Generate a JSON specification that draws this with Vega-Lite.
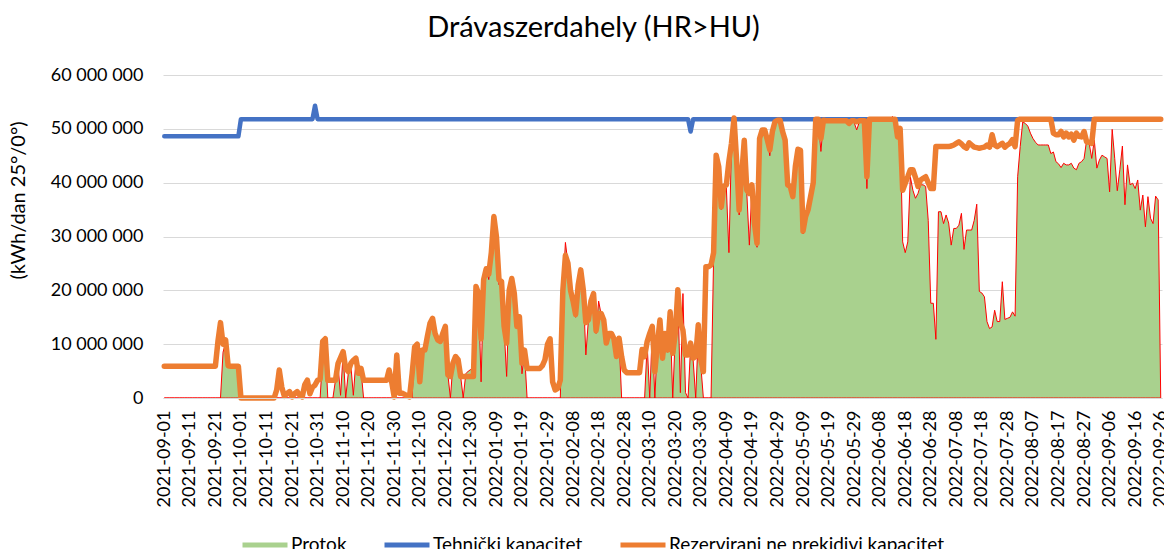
{
"$schema": "https://vega.github.io/schema/vega-lite/v6.json",
"width": 999, "height": 323,
"autosize": {"type": "none"},
"padding": {"left": 163, "top": 75, "right": 2, "bottom": 151},
"background": "white",
"config": {
  "locale": {"number": {"decimal": ",", "thousands": " ", "grouping": [3], "currency": ["", ""]}},
  "view": {"stroke": null},
  "font": "Lato",
  "axis": {"labelFont": "Lato", "titleFont": "Lato"},
  "legend": {"labelFont": "Lato"}
},
"title": {"text": "Drávaszerdahely (HR>HU)", "font": "Lato", "fontSize": 29, "fontWeight": "normal", "color": "black", "anchor": "middle", "frame": "group", "dx": -69, "offset": 23},
"data": {"values": [
{"d":"2021-09-01","p":0,"t":48600000,"r":5900000},
{"d":"2021-09-02","p":0,"t":48600000,"r":5900000},
{"d":"2021-09-03","p":0,"t":48600000,"r":5900000},
{"d":"2021-09-04","p":0,"t":48600000,"r":5900000},
{"d":"2021-09-05","p":0,"t":48600000,"r":5900000},
{"d":"2021-09-06","p":0,"t":48600000,"r":5900000},
{"d":"2021-09-07","p":0,"t":48600000,"r":5900000},
{"d":"2021-09-08","p":0,"t":48600000,"r":5900000},
{"d":"2021-09-09","p":0,"t":48600000,"r":5900000},
{"d":"2021-09-10","p":0,"t":48600000,"r":5900000},
{"d":"2021-09-11","p":0,"t":48600000,"r":5900000},
{"d":"2021-09-12","p":0,"t":48600000,"r":5900000},
{"d":"2021-09-13","p":0,"t":48600000,"r":5900000},
{"d":"2021-09-14","p":0,"t":48600000,"r":5900000},
{"d":"2021-09-15","p":0,"t":48600000,"r":5900000},
{"d":"2021-09-16","p":0,"t":48600000,"r":5900000},
{"d":"2021-09-17","p":0,"t":48600000,"r":5900000},
{"d":"2021-09-18","p":0,"t":48600000,"r":5900000},
{"d":"2021-09-19","p":0,"t":48600000,"r":5900000},
{"d":"2021-09-20","p":0,"t":48600000,"r":5900000},
{"d":"2021-09-21","p":0,"t":48600000,"r":5900000},
{"d":"2021-09-22","p":0,"t":48600000,"r":10500000},
{"d":"2021-09-23","p":0,"t":48600000,"r":14000000},
{"d":"2021-09-24","p":8500000,"t":48600000,"r":10000000},
{"d":"2021-09-25","p":10300000,"t":48600000,"r":10800000},
{"d":"2021-09-26","p":6000000,"t":48600000,"r":6000000},
{"d":"2021-09-27","p":5900000,"t":48600000,"r":5900000},
{"d":"2021-09-28","p":5900000,"t":48600000,"r":5900000},
{"d":"2021-09-29","p":5900000,"t":48600000,"r":5900000},
{"d":"2021-09-30","p":5900000,"t":48600000,"r":5900000},
{"d":"2021-10-01","p":0,"t":51800000,"r":0},
{"d":"2021-10-02","p":0,"t":51800000,"r":0},
{"d":"2021-10-03","p":0,"t":51800000,"r":0},
{"d":"2021-10-04","p":0,"t":51800000,"r":0},
{"d":"2021-10-05","p":0,"t":51800000,"r":0},
{"d":"2021-10-06","p":0,"t":51800000,"r":0},
{"d":"2021-10-07","p":0,"t":51800000,"r":0},
{"d":"2021-10-08","p":0,"t":51800000,"r":0},
{"d":"2021-10-09","p":0,"t":51800000,"r":0},
{"d":"2021-10-10","p":0,"t":51800000,"r":0},
{"d":"2021-10-11","p":0,"t":51800000,"r":0},
{"d":"2021-10-12","p":0,"t":51800000,"r":0},
{"d":"2021-10-13","p":0,"t":51800000,"r":0},
{"d":"2021-10-14","p":0,"t":51800000,"r":0},
{"d":"2021-10-15","p":0,"t":51800000,"r":1500000},
{"d":"2021-10-16","p":0,"t":51800000,"r":5200000},
{"d":"2021-10-17","p":0,"t":51800000,"r":2000000},
{"d":"2021-10-18","p":0,"t":51800000,"r":300000},
{"d":"2021-10-19","p":0,"t":51800000,"r":800000},
{"d":"2021-10-20","p":0,"t":51800000,"r":1200000},
{"d":"2021-10-21","p":0,"t":51800000,"r":200000},
{"d":"2021-10-22","p":0,"t":51800000,"r":800000},
{"d":"2021-10-23","p":0,"t":51800000,"r":1200000},
{"d":"2021-10-24","p":0,"t":51800000,"r":500000},
{"d":"2021-10-25","p":0,"t":51800000,"r":200000},
{"d":"2021-10-26","p":0,"t":51800000,"r":2500000},
{"d":"2021-10-27","p":0,"t":51800000,"r":3300000},
{"d":"2021-10-28","p":0,"t":51800000,"r":800000},
{"d":"2021-10-29","p":0,"t":51800000,"r":2000000},
{"d":"2021-10-30","p":0,"t":54300000,"r":2400000},
{"d":"2021-10-31","p":0,"t":51800000,"r":3300000},
{"d":"2021-11-01","p":0,"t":51800000,"r":3500000},
{"d":"2021-11-02","p":8000000,"t":51800000,"r":10500000},
{"d":"2021-11-03","p":10000000,"t":51800000,"r":11000000},
{"d":"2021-11-04","p":0,"t":51800000,"r":3300000},
{"d":"2021-11-05","p":0,"t":51800000,"r":3300000},
{"d":"2021-11-06","p":0,"t":51800000,"r":3300000},
{"d":"2021-11-07","p":3300000,"t":51800000,"r":3300000},
{"d":"2021-11-08","p":6000000,"t":51800000,"r":6400000},
{"d":"2021-11-09","p":500000,"t":51800000,"r":7500000},
{"d":"2021-11-10","p":8300000,"t":51800000,"r":8600000},
{"d":"2021-11-11","p":0,"t":51800000,"r":5500000},
{"d":"2021-11-12","p":4500000,"t":51800000,"r":4900000},
{"d":"2021-11-13","p":6200000,"t":51800000,"r":6400000},
{"d":"2021-11-14","p":500000,"t":51800000,"r":7000000},
{"d":"2021-11-15","p":7000000,"t":51800000,"r":7400000},
{"d":"2021-11-16","p":4500000,"t":51800000,"r":4600000},
{"d":"2021-11-17","p":5200000,"t":51800000,"r":5500000},
{"d":"2021-11-18","p":0,"t":51800000,"r":3300000},
{"d":"2021-11-19","p":0,"t":51800000,"r":3300000},
{"d":"2021-11-20","p":0,"t":51800000,"r":3300000},
{"d":"2021-11-21","p":0,"t":51800000,"r":3300000},
{"d":"2021-11-22","p":0,"t":51800000,"r":3300000},
{"d":"2021-11-23","p":0,"t":51800000,"r":3300000},
{"d":"2021-11-24","p":0,"t":51800000,"r":3300000},
{"d":"2021-11-25","p":0,"t":51800000,"r":3300000},
{"d":"2021-11-26","p":0,"t":51800000,"r":3300000},
{"d":"2021-11-27","p":0,"t":51800000,"r":3300000},
{"d":"2021-11-28","p":0,"t":51800000,"r":5200000},
{"d":"2021-11-29","p":0,"t":51800000,"r":3000000},
{"d":"2021-11-30","p":0,"t":51800000,"r":200000},
{"d":"2021-12-01","p":0,"t":51800000,"r":8000000},
{"d":"2021-12-02","p":0,"t":51800000,"r":900000},
{"d":"2021-12-03","p":0,"t":51800000,"r":900000},
{"d":"2021-12-04","p":0,"t":51800000,"r":700000},
{"d":"2021-12-05","p":0,"t":51800000,"r":400000},
{"d":"2021-12-06","p":0,"t":51800000,"r":200000},
{"d":"2021-12-07","p":0,"t":51800000,"r":4500000},
{"d":"2021-12-08","p":9500000,"t":51800000,"r":9500000},
{"d":"2021-12-09","p":10000000,"t":51800000,"r":10000000},
{"d":"2021-12-10","p":3000000,"t":51800000,"r":3000000},
{"d":"2021-12-11","p":8900000,"t":51800000,"r":8900000},
{"d":"2021-12-12","p":8900000,"t":51800000,"r":8900000},
{"d":"2021-12-13","p":11500000,"t":51800000,"r":11500000},
{"d":"2021-12-14","p":13900000,"t":51800000,"r":13900000},
{"d":"2021-12-15","p":14500000,"t":51800000,"r":14800000},
{"d":"2021-12-16","p":12000000,"t":51800000,"r":12000000},
{"d":"2021-12-17","p":10500000,"t":51800000,"r":10800000},
{"d":"2021-12-18","p":10500000,"t":51800000,"r":10500000},
{"d":"2021-12-19","p":11500000,"t":51800000,"r":12000000},
{"d":"2021-12-20","p":13000000,"t":51800000,"r":13300000},
{"d":"2021-12-21","p":4300000,"t":51800000,"r":4300000},
{"d":"2021-12-22","p":0,"t":51800000,"r":4000000},
{"d":"2021-12-23","p":6500000,"t":51800000,"r":6500000},
{"d":"2021-12-24","p":7500000,"t":51800000,"r":7700000},
{"d":"2021-12-25","p":6500000,"t":51800000,"r":7100000},
{"d":"2021-12-26","p":4000000,"t":51800000,"r":4000000},
{"d":"2021-12-27","p":0,"t":51800000,"r":4000000},
{"d":"2021-12-28","p":4500000,"t":51800000,"r":4000000},
{"d":"2021-12-29","p":5000000,"t":51800000,"r":4000000},
{"d":"2021-12-30","p":5300000,"t":51800000,"r":4000000},
{"d":"2021-12-31","p":5500000,"t":51800000,"r":4000000},
{"d":"2022-01-01","p":20500000,"t":51800000,"r":20700000},
{"d":"2022-01-02","p":19000000,"t":51800000,"r":19400000},
{"d":"2022-01-03","p":3000000,"t":51800000,"r":11000000},
{"d":"2022-01-04","p":21500000,"t":51800000,"r":22000000},
{"d":"2022-01-05","p":24000000,"t":51800000,"r":24000000},
{"d":"2022-01-06","p":22000000,"t":51800000,"r":23000000},
{"d":"2022-01-07","p":26500000,"t":51800000,"r":27000000},
{"d":"2022-01-08","p":33000000,"t":51800000,"r":33700000},
{"d":"2022-01-09","p":30000000,"t":51800000,"r":30000000},
{"d":"2022-01-10","p":21000000,"t":51800000,"r":22000000},
{"d":"2022-01-11","p":21000000,"t":51800000,"r":21600000},
{"d":"2022-01-12","p":13000000,"t":51800000,"r":13300000},
{"d":"2022-01-13","p":4000000,"t":51800000,"r":10200000},
{"d":"2022-01-14","p":19500000,"t":51800000,"r":20000000},
{"d":"2022-01-15","p":22000000,"t":51800000,"r":22200000},
{"d":"2022-01-16","p":19000000,"t":51800000,"r":19400000},
{"d":"2022-01-17","p":13000000,"t":51800000,"r":13300000},
{"d":"2022-01-18","p":14500000,"t":51800000,"r":15100000},
{"d":"2022-01-19","p":4500000,"t":51800000,"r":6500000},
{"d":"2022-01-20","p":8500000,"t":51800000,"r":8900000},
{"d":"2022-01-21","p":0,"t":51800000,"r":5500000},
{"d":"2022-01-22","p":0,"t":51800000,"r":5500000},
{"d":"2022-01-23","p":0,"t":51800000,"r":5500000},
{"d":"2022-01-24","p":0,"t":51800000,"r":5500000},
{"d":"2022-01-25","p":0,"t":51800000,"r":5500000},
{"d":"2022-01-26","p":0,"t":51800000,"r":5500000},
{"d":"2022-01-27","p":0,"t":51800000,"r":6000000},
{"d":"2022-01-28","p":0,"t":51800000,"r":7100000},
{"d":"2022-01-29","p":0,"t":51800000,"r":10000000},
{"d":"2022-01-30","p":0,"t":51800000,"r":11000000},
{"d":"2022-01-31","p":0,"t":51800000,"r":3000000},
{"d":"2022-02-01","p":0,"t":51800000,"r":1500000},
{"d":"2022-02-02","p":0,"t":51800000,"r":1800000},
{"d":"2022-02-03","p":0,"t":51800000,"r":3300000},
{"d":"2022-02-04","p":20000000,"t":51800000,"r":20000000},
{"d":"2022-02-05","p":28900000,"t":51800000,"r":26500000},
{"d":"2022-02-06","p":25000000,"t":51800000,"r":25000000},
{"d":"2022-02-07","p":20000000,"t":51800000,"r":20000000},
{"d":"2022-02-08","p":18000000,"t":51800000,"r":18000000},
{"d":"2022-02-09","p":15000000,"t":51800000,"r":15500000},
{"d":"2022-02-10","p":21000000,"t":51800000,"r":21000000},
{"d":"2022-02-11","p":23500000,"t":51800000,"r":23800000},
{"d":"2022-02-12","p":20000000,"t":51800000,"r":20100000},
{"d":"2022-02-13","p":8000000,"t":51800000,"r":14000000},
{"d":"2022-02-14","p":14500000,"t":51800000,"r":14500000},
{"d":"2022-02-15","p":18000000,"t":51800000,"r":18000000},
{"d":"2022-02-16","p":19000000,"t":51800000,"r":19400000},
{"d":"2022-02-17","p":12000000,"t":51800000,"r":12500000},
{"d":"2022-02-18","p":18000000,"t":51800000,"r":15700000},
{"d":"2022-02-19","p":15500000,"t":51800000,"r":15700000},
{"d":"2022-02-20","p":14500000,"t":51800000,"r":14500000},
{"d":"2022-02-21","p":10000000,"t":51800000,"r":10200000},
{"d":"2022-02-22","p":12000000,"t":51800000,"r":12000000},
{"d":"2022-02-23","p":12000000,"t":51800000,"r":12000000},
{"d":"2022-02-24","p":10500000,"t":51800000,"r":11000000},
{"d":"2022-02-25","p":7500000,"t":51800000,"r":7700000},
{"d":"2022-02-26","p":11000000,"t":51800000,"r":11100000},
{"d":"2022-02-27","p":0,"t":51800000,"r":7700000},
{"d":"2022-02-28","p":0,"t":51800000,"r":5200000},
{"d":"2022-03-01","p":0,"t":51800000,"r":4700000},
{"d":"2022-03-02","p":0,"t":51800000,"r":4700000},
{"d":"2022-03-03","p":0,"t":51800000,"r":4700000},
{"d":"2022-03-04","p":0,"t":51800000,"r":4700000},
{"d":"2022-03-05","p":0,"t":51800000,"r":4700000},
{"d":"2022-03-06","p":0,"t":51800000,"r":4700000},
{"d":"2022-03-07","p":0,"t":51800000,"r":9000000},
{"d":"2022-03-08","p":0,"t":51800000,"r":7700000},
{"d":"2022-03-09","p":10000000,"t":51800000,"r":10500000},
{"d":"2022-03-10","p":0,"t":51800000,"r":12000000},
{"d":"2022-03-11","p":12500000,"t":51800000,"r":13300000},
{"d":"2022-03-12","p":0,"t":51800000,"r":4900000},
{"d":"2022-03-13","p":10000000,"t":51800000,"r":10000000},
{"d":"2022-03-14","p":13000000,"t":51800000,"r":14500000},
{"d":"2022-03-15","p":7000000,"t":51800000,"r":7400000},
{"d":"2022-03-16","p":11500000,"t":51800000,"r":12000000},
{"d":"2022-03-17","p":8500000,"t":51800000,"r":8900000},
{"d":"2022-03-18","p":15000000,"t":51800000,"r":16000000},
{"d":"2022-03-19","p":0,"t":51800000,"r":8300000},
{"d":"2022-03-20","p":11500000,"t":51800000,"r":12000000},
{"d":"2022-03-21","p":19500000,"t":51800000,"r":20100000},
{"d":"2022-03-22","p":1000000,"t":51800000,"r":13900000},
{"d":"2022-03-23","p":19400000,"t":51800000,"r":12600000},
{"d":"2022-03-24","p":1000000,"t":51800000,"r":8000000},
{"d":"2022-03-25","p":0,"t":51800000,"r":8000000},
{"d":"2022-03-26","p":9500000,"t":49500000,"r":10200000},
{"d":"2022-03-27","p":7000000,"t":51800000,"r":7400000},
{"d":"2022-03-28","p":0,"t":51800000,"r":7700000},
{"d":"2022-03-29","p":12000000,"t":51800000,"r":13600000},
{"d":"2022-03-30","p":6000000,"t":51800000,"r":7100000},
{"d":"2022-03-31","p":0,"t":51800000,"r":4900000},
{"d":"2022-04-01","p":0,"t":51800000,"r":24400000},
{"d":"2022-04-02","p":0,"t":51800000,"r":24400000},
{"d":"2022-04-03","p":0,"t":51800000,"r":24700000},
{"d":"2022-04-04","p":26000000,"t":51800000,"r":27000000},
{"d":"2022-04-05","p":44000000,"t":51800000,"r":45100000},
{"d":"2022-04-06","p":38000000,"t":51800000,"r":43000000},
{"d":"2022-04-07","p":35000000,"t":51800000,"r":35500000},
{"d":"2022-04-08","p":39000000,"t":51800000,"r":39300000},
{"d":"2022-04-09","p":39000000,"t":51800000,"r":39600000},
{"d":"2022-04-10","p":27000000,"t":51800000,"r":44000000},
{"d":"2022-04-11","p":47000000,"t":51800000,"r":47300000},
{"d":"2022-04-12","p":51000000,"t":51800000,"r":52000000},
{"d":"2022-04-13","p":44000000,"t":51800000,"r":44200000},
{"d":"2022-04-14","p":34000000,"t":51800000,"r":34900000},
{"d":"2022-04-15","p":41000000,"t":51800000,"r":41400000},
{"d":"2022-04-16","p":47500000,"t":51800000,"r":47900000},
{"d":"2022-04-17","p":38000000,"t":51800000,"r":38600000},
{"d":"2022-04-18","p":28400000,"t":51800000,"r":38000000},
{"d":"2022-04-19","p":39000000,"t":51800000,"r":39600000},
{"d":"2022-04-20","p":32000000,"t":51800000,"r":32400000},
{"d":"2022-04-21","p":28000000,"t":51800000,"r":28700000},
{"d":"2022-04-22","p":48000000,"t":51800000,"r":48200000},
{"d":"2022-04-23","p":49500000,"t":51800000,"r":49800000},
{"d":"2022-04-24","p":49800000,"t":51800000,"r":49800000},
{"d":"2022-04-25","p":48000000,"t":51800000,"r":48000000},
{"d":"2022-04-26","p":45000000,"t":51800000,"r":46100000},
{"d":"2022-04-27","p":49500000,"t":51800000,"r":49500000},
{"d":"2022-04-28","p":51000000,"t":51800000,"r":51300000},
{"d":"2022-04-29","p":51500000,"t":51800000,"r":51600000},
{"d":"2022-04-30","p":51500000,"t":51800000,"r":51600000},
{"d":"2022-05-01","p":49500000,"t":51800000,"r":49500000},
{"d":"2022-05-02","p":47500000,"t":51800000,"r":47900000},
{"d":"2022-05-03","p":39500000,"t":51800000,"r":39600000},
{"d":"2022-05-04","p":39000000,"t":51800000,"r":39300000},
{"d":"2022-05-05","p":37000000,"t":51800000,"r":37400000},
{"d":"2022-05-06","p":43000000,"t":51800000,"r":43000000},
{"d":"2022-05-07","p":46000000,"t":51800000,"r":46200000},
{"d":"2022-05-08","p":46000000,"t":51800000,"r":46000000},
{"d":"2022-05-09","p":30500000,"t":51800000,"r":31000000},
{"d":"2022-05-10","p":33500000,"t":51800000,"r":33700000},
{"d":"2022-05-11","p":35000000,"t":51800000,"r":35000000},
{"d":"2022-05-12","p":37000000,"t":51800000,"r":37500000},
{"d":"2022-05-13","p":39500000,"t":51800000,"r":40000000},
{"d":"2022-05-14","p":51500000,"t":51800000,"r":51800000},
{"d":"2022-05-15","p":51500000,"t":51800000,"r":51800000},
{"d":"2022-05-16","p":45800000,"t":51800000,"r":48200000},
{"d":"2022-05-17","p":51300000,"t":51800000,"r":51600000},
{"d":"2022-05-18","p":51200000,"t":51800000,"r":51500000},
{"d":"2022-05-19","p":51200000,"t":51800000,"r":51500000},
{"d":"2022-05-20","p":51200000,"t":51800000,"r":51500000},
{"d":"2022-05-21","p":51200000,"t":51800000,"r":51500000},
{"d":"2022-05-22","p":51200000,"t":51800000,"r":51500000},
{"d":"2022-05-23","p":51200000,"t":51800000,"r":51500000},
{"d":"2022-05-24","p":51200000,"t":51800000,"r":51500000},
{"d":"2022-05-25","p":51200000,"t":51800000,"r":51500000},
{"d":"2022-05-26","p":51200000,"t":51800000,"r":51500000},
{"d":"2022-05-27","p":50800000,"t":51800000,"r":51000000},
{"d":"2022-05-28","p":51200000,"t":51800000,"r":51500000},
{"d":"2022-05-29","p":51200000,"t":51800000,"r":51500000},
{"d":"2022-05-30","p":49800000,"t":51800000,"r":51300000},
{"d":"2022-05-31","p":51200000,"t":51800000,"r":51500000},
{"d":"2022-06-01","p":51300000,"t":51800000,"r":51500000},
{"d":"2022-06-02","p":51300000,"t":51800000,"r":51500000},
{"d":"2022-06-03","p":38900000,"t":51800000,"r":41100000},
{"d":"2022-06-04","p":51500000,"t":51800000,"r":51800000},
{"d":"2022-06-05","p":51500000,"t":51800000,"r":51800000},
{"d":"2022-06-06","p":51500000,"t":51800000,"r":51800000},
{"d":"2022-06-07","p":51500000,"t":51800000,"r":51800000},
{"d":"2022-06-08","p":51500000,"t":51800000,"r":51800000},
{"d":"2022-06-09","p":51500000,"t":51800000,"r":51800000},
{"d":"2022-06-10","p":51500000,"t":51800000,"r":51800000},
{"d":"2022-06-11","p":51500000,"t":51800000,"r":51800000},
{"d":"2022-06-12","p":51500000,"t":51800000,"r":51800000},
{"d":"2022-06-13","p":52300000,"t":51800000,"r":51800000},
{"d":"2022-06-14","p":51500000,"t":51800000,"r":51800000},
{"d":"2022-06-15","p":50000000,"t":51800000,"r":48500000},
{"d":"2022-06-16","p":50000000,"t":51800000,"r":50100000},
{"d":"2022-06-17","p":29000000,"t":51800000,"r":38600000},
{"d":"2022-06-18","p":27000000,"t":51800000,"r":39900000},
{"d":"2022-06-19","p":29000000,"t":51800000,"r":41100000},
{"d":"2022-06-20","p":41100000,"t":51800000,"r":42400000},
{"d":"2022-06-21","p":38600000,"t":51800000,"r":42400000},
{"d":"2022-06-22","p":37100000,"t":51800000,"r":41000000},
{"d":"2022-06-23","p":38000000,"t":51800000,"r":39300000},
{"d":"2022-06-24","p":39600000,"t":51800000,"r":40500000},
{"d":"2022-06-25","p":39600000,"t":51800000,"r":40800000},
{"d":"2022-06-26","p":39300000,"t":51800000,"r":41100000},
{"d":"2022-06-27","p":33000000,"t":51800000,"r":40000000},
{"d":"2022-06-28","p":17600000,"t":51800000,"r":38900000},
{"d":"2022-06-29","p":17600000,"t":51800000,"r":38900000},
{"d":"2022-06-30","p":10900000,"t":51800000,"r":46700000},
{"d":"2022-07-01","p":34600000,"t":51800000,"r":46700000},
{"d":"2022-07-02","p":34600000,"t":51800000,"r":46700000},
{"d":"2022-07-03","p":32400000,"t":51800000,"r":46700000},
{"d":"2022-07-04","p":34000000,"t":51800000,"r":46700000},
{"d":"2022-07-05","p":32500000,"t":51800000,"r":46700000},
{"d":"2022-07-06","p":28400000,"t":51800000,"r":46800000},
{"d":"2022-07-07","p":31500000,"t":51800000,"r":47000000},
{"d":"2022-07-08","p":31500000,"t":51800000,"r":47300000},
{"d":"2022-07-09","p":32100000,"t":51800000,"r":47600000},
{"d":"2022-07-10","p":34300000,"t":51800000,"r":47200000},
{"d":"2022-07-11","p":27600000,"t":51800000,"r":46700000},
{"d":"2022-07-12","p":31200000,"t":51800000,"r":46400000},
{"d":"2022-07-13","p":31200000,"t":51800000,"r":47400000},
{"d":"2022-07-14","p":31200000,"t":51800000,"r":47000000},
{"d":"2022-07-15","p":33000000,"t":51800000,"r":46600000},
{"d":"2022-07-16","p":36000000,"t":51800000,"r":46500000},
{"d":"2022-07-17","p":19800000,"t":51800000,"r":46400000},
{"d":"2022-07-18","p":19500000,"t":51800000,"r":46500000},
{"d":"2022-07-19","p":18800000,"t":51800000,"r":46600000},
{"d":"2022-07-20","p":14200000,"t":51800000,"r":47000000},
{"d":"2022-07-21","p":12900000,"t":51800000,"r":46600000},
{"d":"2022-07-22","p":13200000,"t":51800000,"r":48900000},
{"d":"2022-07-23","p":16300000,"t":51800000,"r":47000000},
{"d":"2022-07-24","p":14200000,"t":51800000,"r":46700000},
{"d":"2022-07-25","p":14200000,"t":51800000,"r":47000000},
{"d":"2022-07-26","p":21600000,"t":51800000,"r":47300000},
{"d":"2022-07-27","p":14600000,"t":51800000,"r":46600000},
{"d":"2022-07-28","p":14800000,"t":51800000,"r":47000000},
{"d":"2022-07-29","p":15000000,"t":51800000,"r":47300000},
{"d":"2022-07-30","p":16000000,"t":51800000,"r":48000000},
{"d":"2022-07-31","p":15200000,"t":51800000,"r":46700000},
{"d":"2022-08-01","p":41100000,"t":51800000,"r":51600000},
{"d":"2022-08-02","p":46700000,"t":51800000,"r":51800000},
{"d":"2022-08-03","p":51300000,"t":51800000,"r":51800000},
{"d":"2022-08-04","p":51000000,"t":51800000,"r":51800000},
{"d":"2022-08-05","p":50500000,"t":51800000,"r":51800000},
{"d":"2022-08-06","p":49200000,"t":51800000,"r":51800000},
{"d":"2022-08-07","p":48200000,"t":51800000,"r":51800000},
{"d":"2022-08-08","p":47500000,"t":51800000,"r":51800000},
{"d":"2022-08-09","p":47000000,"t":51800000,"r":51800000},
{"d":"2022-08-10","p":47000000,"t":51800000,"r":51800000},
{"d":"2022-08-11","p":47000000,"t":51800000,"r":51800000},
{"d":"2022-08-12","p":47000000,"t":51800000,"r":51800000},
{"d":"2022-08-13","p":47000000,"t":51800000,"r":51800000},
{"d":"2022-08-14","p":45400000,"t":51800000,"r":51800000},
{"d":"2022-08-15","p":45700000,"t":51800000,"r":49200000},
{"d":"2022-08-16","p":43900000,"t":51800000,"r":48900000},
{"d":"2022-08-17","p":43500000,"t":51800000,"r":48900000},
{"d":"2022-08-18","p":42800000,"t":51800000,"r":49500000},
{"d":"2022-08-19","p":43600000,"t":51800000,"r":48500000},
{"d":"2022-08-20","p":43300000,"t":51800000,"r":49200000},
{"d":"2022-08-21","p":43300000,"t":51800000,"r":48500000},
{"d":"2022-08-22","p":43600000,"t":51800000,"r":49000000},
{"d":"2022-08-23","p":42700000,"t":51800000,"r":47900000},
{"d":"2022-08-24","p":42400000,"t":51800000,"r":49200000},
{"d":"2022-08-25","p":43600000,"t":51800000,"r":48600000},
{"d":"2022-08-26","p":43900000,"t":51800000,"r":48500000},
{"d":"2022-08-27","p":44500000,"t":51800000,"r":49500000},
{"d":"2022-08-28","p":47900000,"t":51800000,"r":47600000},
{"d":"2022-08-29","p":47300000,"t":51800000,"r":47500000},
{"d":"2022-08-30","p":44500000,"t":51800000,"r":47300000},
{"d":"2022-08-31","p":47900000,"t":51800000,"r":51800000},
{"d":"2022-09-01","p":42700000,"t":51800000,"r":51800000},
{"d":"2022-09-02","p":44200000,"t":51800000,"r":51800000},
{"d":"2022-09-03","p":45100000,"t":51800000,"r":51800000},
{"d":"2022-09-04","p":44800000,"t":51800000,"r":51800000},
{"d":"2022-09-05","p":44500000,"t":51800000,"r":51800000},
{"d":"2022-09-06","p":38300000,"t":51800000,"r":51800000},
{"d":"2022-09-07","p":49900000,"t":51800000,"r":51800000},
{"d":"2022-09-08","p":44500000,"t":51800000,"r":51800000},
{"d":"2022-09-09","p":38500000,"t":51800000,"r":51800000},
{"d":"2022-09-10","p":42400000,"t":51800000,"r":51800000},
{"d":"2022-09-11","p":46800000,"t":51800000,"r":51800000},
{"d":"2022-09-12","p":35900000,"t":51800000,"r":51800000},
{"d":"2022-09-13","p":43300000,"t":51800000,"r":51800000},
{"d":"2022-09-14","p":39600000,"t":51800000,"r":51800000},
{"d":"2022-09-15","p":39900000,"t":51800000,"r":51800000},
{"d":"2022-09-16","p":38900000,"t":51800000,"r":51800000},
{"d":"2022-09-17","p":40500000,"t":51800000,"r":51800000},
{"d":"2022-09-18","p":34900000,"t":51800000,"r":51800000},
{"d":"2022-09-19","p":37700000,"t":51800000,"r":51800000},
{"d":"2022-09-20","p":31800000,"t":51800000,"r":51800000},
{"d":"2022-09-21","p":37400000,"t":51800000,"r":51800000},
{"d":"2022-09-22","p":33400000,"t":51800000,"r":51800000},
{"d":"2022-09-23","p":32400000,"t":51800000,"r":51800000},
{"d":"2022-09-24","p":37500000,"t":51800000,"r":51800000},
{"d":"2022-09-25","p":36800000,"t":51800000,"r":51800000},
{"d":"2022-09-26","p":0,"t":51800000,"r":51800000}
]},
"encoding": {
  "x": {"field": "d", "type": "temporal",
    "scale": {"type": "utc", "domain": [{"year": 2021, "month": 8, "date": 31, "hours": 12, "utc": true}, {"year": 2022, "month": 9, "date": 26, "hours": 12, "utc": true}]},
    "axis": {"title": null, "labelExpr": "utcFormat(datum.value, '%Y-%m-%d')", "labelAngle": -90, "labelFontSize": 18, "labelColor": "black", "labelPadding": 12, "ticks": false, "grid": false, "domainColor": "#d9d9d9", "domainWidth": 1, "labelOverlap": false, "labelFlush": false, "zindex": 1,
      "values": [1630454400000,1631318400000,1632182400000,1633046400000,1633910400000,1634774400000,1635638400000,1636502400000,1637366400000,1638230400000,1639094400000,1639958400000,1640822400000,1641686400000,1642550400000,1643414400000,1644278400000,1645142400000,1646006400000,1646870400000,1647734400000,1648598400000,1649462400000,1650326400000,1651190400000,1652054400000,1652918400000,1653782400000,1654646400000,1655510400000,1656374400000,1657238400000,1658102400000,1658966400000,1659830400000,1660694400000,1661558400000,1662422400000,1663286400000,1664150400000]}
  }
},
"layer": [
  {"mark": {"type": "area", "stroke": "#ff0000", "strokeWidth": 1, "fillOpacity": 1},
   "encoding": {
     "y": {"field": "p", "type": "quantitative", "title": "(kWh/dan 25°/0°)",
       "scale": {"domain": [0, 60000000], "nice": false},
       "axis": {"values": [0, 10000000, 20000000, 30000000, 40000000, 50000000, 60000000], "format": ",.0f", "labelFontSize": 18, "labelColor": "black", "labelPadding": 20, "ticks": false, "domain": false, "gridColor": "#d9d9d9", "gridWidth": 1, "titleFontSize": 20, "titleFontWeight": "normal", "titleColor": "black", "titlePadding": 22, "titleY": 125}},
     "color": {"datum": "Protok", "type": "nominal",
       "scale": {"domain": ["Protok", "Tehnički kapacitet", "Rezervirani ne prekidivi kapacitet"], "range": ["#a9d18e", "#4472c4", "#ed7d31"]},
       "legend": {"orient": "none", "legendX": 77, "legendY": 445, "direction": "horizontal", "title": null, "padding": 0,
         "symbolType": "stroke", "symbolSize": 2025, "symbolStrokeWidth": 5,
         "labelFontSize": 19, "labelColor": "black", "labelOffset": 1, "columnPadding": 27, "labelLimit": 500,
         "encode": {"symbols": {"update": {
           "shape": [{"test": "datum.value === 'Protok'", "value": "M-1,-0.32L1,-0.32L1,0.32L-1,0.32Z"}, {"value": "stroke"}],
           "fill": [{"test": "datum.value === 'Protok'", "value": "#a9d18e"}, {"value": "transparent"}],
           "stroke": [{"test": "datum.value === 'Protok'", "value": "#ff0000"}, {"test": "datum.value === 'Tehnički kapacitet'", "value": "#4472c4"}, {"value": "#ed7d31"}],
           "strokeWidth": [{"test": "datum.value === 'Protok'", "value": 1}, {"value": 5}],
           "strokeCap": {"value": "round"},
           "opacity": {"value": 1}
         }}}}}
   }},
  {"mark": {"type": "line", "strokeWidth": 4.5, "strokeJoin": "round", "strokeCap": "round"},
   "encoding": {
     "y": {"field": "t", "type": "quantitative", "title": "(kWh/dan 25°/0°)"},
     "color": {"datum": "Tehnički kapacitet", "type": "nominal"}
   }},
  {"mark": {"type": "line", "strokeWidth": 5.5, "strokeJoin": "round", "strokeCap": "round"},
   "encoding": {
     "y": {"field": "r", "type": "quantitative", "title": "(kWh/dan 25°/0°)"},
     "color": {"datum": "Rezervirani ne prekidivi kapacitet", "type": "nominal"}
   }}
]
}
